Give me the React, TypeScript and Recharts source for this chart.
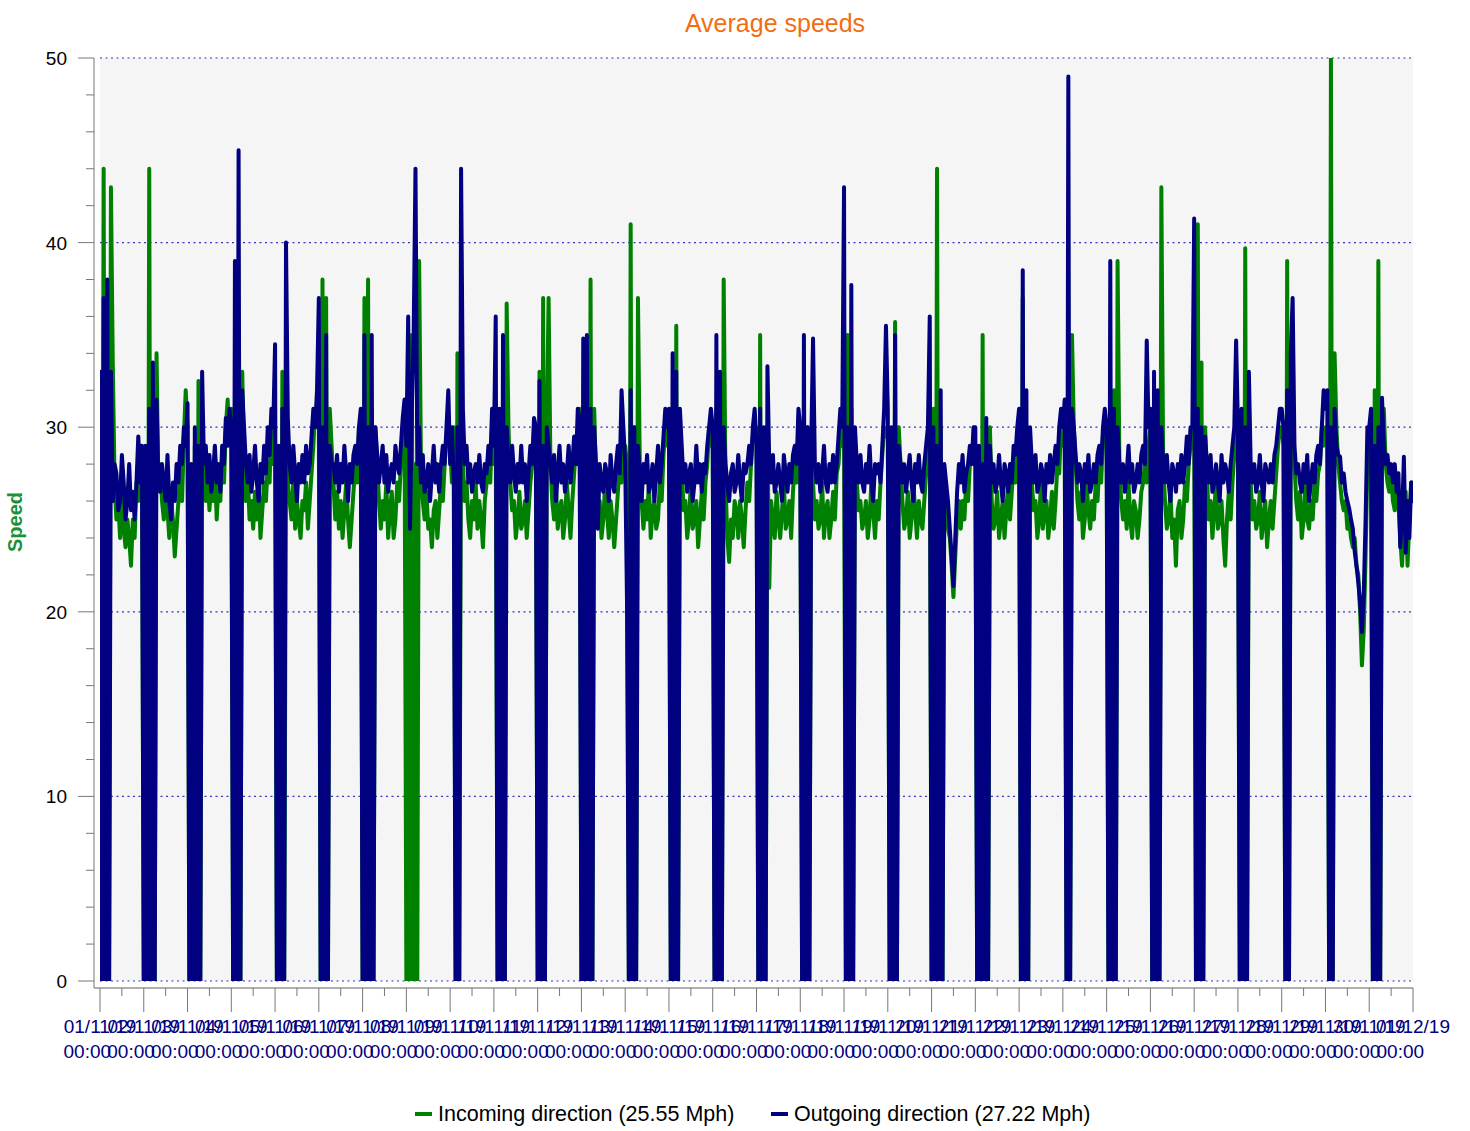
import React from "react";
import { LineChart, Line, XAxis, YAxis, ReferenceArea, ReferenceLine } from "recharts";

const FONT = '"Liberation Sans", Arial, Helvetica, sans-serif';

const titleText = "Average speeds";
const yAxisTitle = "Speed";
const incomingName = "Incoming direction (25.55 Mph)";
const outgoingName = "Outgoing direction (27.22 Mph)";

const dayLabels = [
  "01/11/19", "02/11/19", "03/11/19", "04/11/19", "05/11/19", "06/11/19", "07/11/19", "08/11/19",
  "09/11/19", "10/11/19", "11/11/19", "12/11/19", "13/11/19", "14/11/19", "15/11/19", "16/11/19",
  "17/11/19", "18/11/19", "19/11/19", "20/11/19", "21/11/19", "22/11/19", "23/11/19", "24/11/19",
  "25/11/19", "26/11/19", "27/11/19", "28/11/19", "29/11/19", "30/11/19", "01/12/19",
];
const timeLabel = "00:00";

const yTicks = [0, 2, 4, 6, 8, 10, 12, 14, 16, 18, 20, 22, 24, 26, 28, 30, 32, 34, 36, 38, 40, 42, 44, 46, 48, 50];
const yGridValues = [0, 10, 20, 30, 40, 50];

// Hourly averages per day (00:00 .. 23:00), Incoming direction
const incomingByDay: number[][] = [
  [23, 0, 44, 0, 30, 0, 43, 33.5, 27, 25, 26, 24, 26.5, 24.5, 23.5, 25, 24, 22.5, 25, 24, 27, 26, 29, 28],
  [0, 28, 0, 44, 0, 30, 0, 34, 27, 28, 26, 25, 27, 25.5, 24, 26, 25, 23, 24.5, 26, 27.5, 26, 29.5, 32],
  [30, 0, 27, 0, 29, 0, 32.5, 0, 30, 27, 26, 28, 25.5, 27, 26, 28, 25, 27, 26, 28.5, 27, 30, 31.5, 29],
  [31, 0, 30, 0, 27, 0, 33, 28, 26, 27.5, 25, 26, 24.5, 26.5, 25, 27, 24, 25.5, 27, 26, 28, 27, 30.5, 28],
  [29, 0, 28, 0, 33, 0, 29, 27, 26, 25, 27, 24.5, 26, 25, 24, 26, 25.5, 27, 24.5, 26, 27.5, 29, 31, 30],
  [30, 0, 38, 0, 37, 0, 31, 29, 27, 25, 26.5, 24.5, 26, 24, 25.5, 27, 25, 23.5, 25, 26.5, 28, 27, 30, 29.5],
  [0, 37, 0, 38, 0, 31, 0, 30, 28, 26, 24.5, 26, 25, 27, 24, 25.5, 26.5, 24, 25, 27, 26, 28, 29.5, 31],
  [0, 30, 0, 35, 0, 28, 0, 39, 28, 26, 25, 26.5, 24.5, 25, 23.5, 25.5, 26, 24, 25.5, 27, 26, 28, 29.5, 30],
  [29, 27, 30, 0, 34, 0, 31, 28, 26, 27, 25, 24, 26, 25, 27, 24.5, 26, 25, 23.5, 26, 27, 28.5, 27, 30],
  [28, 30, 0, 29, 0, 32, 0, 36.7, 30, 27, 25.5, 26, 24, 25, 26.5, 24.5, 25, 26, 24, 25.5, 27, 28, 30, 28.5],
  [0, 33, 0, 37, 0, 30, 37, 28, 26, 25, 27, 24.5, 25.5, 26, 24, 25, 27, 25.5, 24, 26, 27.5, 29, 28, 31],
  [0, 30, 0, 33, 0, 38, 0, 31, 27, 25.5, 26, 24, 25, 27, 25.5, 24, 26, 25, 23.5, 25, 26.5, 28, 27, 29],
  [29, 28, 0, 41, 0, 30, 0, 37, 28, 26, 24.5, 26, 25, 27, 24, 25.5, 26, 24.5, 25, 27, 26, 28.5, 30, 29],
  [30, 0, 29, 0, 35.5, 0, 30, 28, 25.5, 26, 24, 25, 27, 24.5, 25, 26, 23.5, 25, 26.5, 25, 27, 28, 30, 29],
  [29, 0, 31, 0, 30, 0, 38, 27, 24, 22.7, 25, 24, 26, 25.5, 24, 26, 25, 23.5, 25.5, 27, 26, 28, 29.5, 30],
  [30, 0, 35, 0, 29, 0, 30, 21.3, 26, 25, 24, 26.5, 25, 24, 25.5, 27, 24.5, 25, 26, 24, 26.5, 28, 27, 30],
  [29, 0, 28, 0, 30, 0, 29, 27, 25, 26, 24.5, 25, 27, 24, 25.5, 26, 24, 25, 26.5, 25, 27.5, 28, 30, 29],
  [30, 0, 35, 0, 31, 0, 29, 27, 25.5, 26, 24.5, 25, 26, 24, 25, 27, 25.5, 24, 26, 25, 27, 28.5, 30, 29.5],
  [30, 0, 29, 0, 35.7, 0, 30, 28, 26, 24.5, 25, 26.5, 24, 25, 27, 25.5, 24, 26, 25, 24.5, 26, 27.5, 29, 31],
  [0, 31, 0, 44, 0, 30, 0, 27, 25.5, 24.5, 24, 22.5, 20.8, 23, 25, 26, 24.5, 26, 25, 27, 26, 28, 29, 28],
  [29, 0, 28, 0, 35, 0, 29, 0, 30, 26, 24.5, 25, 26.5, 24, 25, 26, 24, 25.5, 27, 25, 26.5, 28, 27, 29],
  [30, 0, 37, 0, 30, 0, 29, 27, 25.5, 26, 24, 25, 27, 24.5, 25.5, 26, 24, 25, 26.5, 24.5, 26, 28, 27.5, 30],
  [29, 30, 0, 31, 0, 35, 30, 28, 26, 25, 26.5, 24, 25, 27, 25.5, 24.5, 26, 25, 27, 26, 28, 27, 29.5, 30],
  [29, 0, 30, 0, 32, 0, 39, 28, 26, 25, 26, 24.5, 27, 25, 24, 26, 25.5, 24, 25, 26.5, 27, 28, 27, 29],
  [30, 0, 29, 0, 31, 0, 43, 28, 26, 24.5, 25, 26.5, 24, 25, 22.5, 25.5, 26, 24, 25, 27, 26, 28, 29, 30],
  [30, 0, 41, 0, 33.5, 0, 30, 27.5, 25, 26, 24, 25.5, 27, 24.5, 25, 26, 24, 22.5, 25, 26.5, 25, 27, 28.5, 30],
  [29, 0, 30, 0, 39.7, 0, 29, 27, 25, 26, 24.5, 25, 26.5, 24, 25, 26, 23.5, 25, 26, 24.5, 26, 27.5, 29, 30],
  [30, 29, 0, 39, 0, 31, 30, 28, 26, 25, 26.5, 24, 25, 27, 25, 24.5, 26, 25, 27, 26, 27.5, 28, 30, 29],
  [30, 29, 0, 50, 0, 34, 30, 28, 27, 26, 25.5, 26, 24.5, 25, 24, 23.5, 24, 22.5, 22, 20, 17.1, 19, 23, 28],
  [29, 30, 0, 32, 0, 39, 0, 30, 31, 28, 27, 26.5, 27.5, 26, 25.5, 27, 26, 24, 22.5, 25, 26.5, 22.5, 25, 27],
  [27],
];

// Hourly averages per day (00:00 .. 23:00), Outgoing direction
const outgoingByDay: number[][] = [
  [33, 0, 37, 0, 38, 0, 33, 26, 28, 27.5, 25.5, 26, 28.5, 27, 25, 26, 28, 25.5, 26.5, 25, 27, 29.5, 27, 29],
  [0, 29, 0, 31, 0, 33.5, 0, 31.5, 27, 26.5, 28, 27, 26, 28.5, 26, 25, 27, 26, 28, 27, 29, 28, 30, 29],
  [31.3, 0, 28, 0, 30, 0, 29, 0, 33, 28, 29, 27, 28.5, 26.5, 27.5, 29, 27, 28, 26.5, 29, 28, 30.5, 29, 31],
  [30, 0, 39, 0, 45, 0, 32, 30, 28, 27, 28.5, 26.5, 27.5, 29, 27, 26, 28, 27, 29, 27.5, 30, 28.5, 31, 30],
  [34.5, 0, 29, 0, 31, 0, 40, 30.5, 28, 27, 29, 27.5, 26, 28, 27, 28.5, 27, 29, 27.5, 28, 29.5, 31, 30, 32],
  [37, 0, 30, 0, 35, 0, 29, 28, 28, 27, 28.5, 26.5, 28, 27, 29, 27.5, 26, 28, 27, 28.5, 29, 28, 30, 31],
  [0, 35, 0, 30, 0, 35, 0, 30, 28.5, 27, 28, 29, 27, 28.5, 26.5, 27.5, 28, 27, 29, 28, 27.5, 29, 30.5, 31.5],
  [29, 36, 24.5, 31, 35, 44, 28, 30, 27, 28.5, 26.5, 27, 28, 26, 27.5, 29, 27, 28, 26.5, 28, 29, 28, 30, 32],
  [28, 30, 27, 0, 30, 0, 44, 31, 28, 29, 27, 28, 26.5, 27.5, 28, 27, 28.5, 27, 26.5, 28, 27.5, 29, 28, 31],
  [29, 36, 0, 31, 0, 35, 0, 30, 28, 27, 29, 27.5, 26.5, 28, 27, 29, 27, 28, 26, 27.5, 29, 28, 30.5, 30],
  [0, 32.5, 0, 29, 0, 30, 29, 28, 27, 28.5, 26, 27.5, 29, 27, 28, 26.5, 27.5, 29, 27, 28, 29.5, 28, 31, 30.5],
  [0, 34.8, 0, 35, 0, 31, 0, 30, 28, 24.5, 28, 27, 26.5, 28, 27.5, 26, 28.5, 27, 26.5, 28, 29, 27.5, 32, 30],
  [28, 20.5, 0, 32, 0, 30, 0, 29, 27.5, 26, 28, 27, 28.5, 26.5, 27, 28, 26, 27.5, 29, 27, 28, 29.5, 31, 30],
  [31, 0, 34, 0, 33, 0, 31, 29, 27, 28, 26.5, 27.5, 28, 26, 27, 29, 27, 28, 26.5, 28, 27.5, 29, 30, 31],
  [30, 0, 35, 0, 33, 0, 30, 28, 27, 26, 27.5, 28, 26.5, 27, 28.5, 27, 26, 28, 27.5, 28, 29, 28, 30, 31],
  [29, 0, 31, 0, 30, 0, 33.3, 28, 27, 28.5, 26.5, 27, 28, 27, 26, 28.5, 27.5, 26.5, 28, 27, 28.5, 29, 28, 31],
  [30, 0, 35, 0, 30, 0, 29, 34.8, 28, 27, 28, 26.5, 27.5, 29, 27, 26.5, 28, 27, 28.5, 27, 28, 29.5, 31, 30],
  [43, 0, 30, 0, 37.7, 0, 30, 28, 27, 28.5, 27, 26.5, 28, 27, 29, 27, 26, 28, 27.5, 28, 27, 29, 31, 35.5],
  [31, 0, 30, 0, 35, 0, 29, 28, 27, 28, 26.5, 27.5, 28.5, 27, 26, 28, 27, 28.5, 27, 26.5, 28, 29, 30, 36],
  [0, 30, 0, 29, 0, 32, 0, 28, 27, 26, 24.5, 23, 21.4, 24, 26.5, 28, 27, 28.5, 26.5, 27.5, 28, 29, 28, 30],
  [30, 0, 29, 0, 28, 0, 30.5, 0, 29, 27, 28, 26.5, 27, 28.5, 27, 26, 28, 27.5, 26.5, 28, 27, 29, 28.5, 30],
  [31, 0, 38.5, 0, 32, 0, 30, 28, 27, 28.5, 26.5, 27, 28, 27.5, 26, 28, 27, 28.5, 27, 28, 29, 28, 30, 31],
  [30, 31.5, 0, 49, 0, 31, 30, 28.5, 27, 28, 27.5, 26, 28, 27, 28.5, 26.5, 27, 28, 27, 28.5, 29, 28, 30, 31],
  [30, 0, 39, 0, 31, 0, 30, 28, 27, 28, 26.5, 27.5, 29, 27, 28, 26.5, 27, 28, 27, 28.5, 29, 28, 34.7, 30],
  [31, 0, 33, 0, 32, 0, 30, 28, 27, 28.5, 27, 26, 28, 27.5, 26.5, 28, 27, 28.5, 27, 28, 29.5, 28, 30, 30],
  [41.3, 0, 31, 0, 30, 0, 29.5, 28, 27, 28.5, 26.5, 27, 28, 27, 26, 28.5, 27, 28, 27.5, 26.5, 28, 29, 30, 34.7],
  [30, 0, 31, 0, 30, 0, 33, 28, 27, 28, 26.5, 27, 28.5, 27, 26, 28, 27.5, 27, 28, 27, 28.5, 29, 30, 31],
  [31, 30, 0, 32, 0, 34, 37, 29, 27.5, 28, 27, 26.5, 28, 27, 28.5, 26, 27, 28, 27, 28.5, 29, 28, 30, 32],
  [31, 32, 0, 30, 0, 31, 29, 28.5, 28.4, 27, 27.5, 26.5, 26, 25.6, 25, 24.5, 23.3, 22.5, 21.6, 20.5, 18.9, 21, 25, 30],
  [30, 31, 0, 29, 0, 30, 0, 31.6, 29, 28, 28.5, 27.5, 28, 27, 28, 26.5, 27.5, 23.5, 25, 28.4, 23.2, 26, 24, 27],
  [26],
];

const HOURS_PER_DAY = 24;

const toRows = (byDay: number[][]) =>
  byDay.flatMap((vals, day) => vals.map((v, h) => ({ t: day + h / HOURS_PER_DAY, v })));

const incomingRows = toRows(incomingByDay);
const outgoingRows = toRows(outgoingByDay);

const xTicks = dayLabels.flatMap((_, i) => (i < dayLabels.length - 1 ? [i, i + 0.5] : [i]));

const AXIS_GRAY = "#777777";
const GREEN = "#008000";
const NAVY = "#000080";

const XTick = (props: any) => {
  const { x, y, payload } = props;
  const v = payload.value as number;
  const major = Number.isInteger(v);
  return (
    <g>
      <line x1={x} x2={x} y1={y} y2={y + (major ? 24 : 8)} stroke={AXIS_GRAY} strokeWidth={1} />
      {major && (
        <>
          <text x={x} y={y + 45} textAnchor="middle" fontSize={19} fontFamily={FONT} fill={NAVY}>
            {dayLabels[v]}
          </text>
          <text x={x - 36.5} y={y + 70} textAnchor="start" fontSize={19} fontFamily={FONT} fill={NAVY}>
            {timeLabel}
          </text>
        </>
      )}
    </g>
  );
};

const YTick = (props: any) => {
  const { x, y, payload } = props;
  const v = payload.value as number;
  const major = v % 10 === 0;
  return (
    <g>
      <line x1={x - (major ? 16 : 8)} x2={x} y1={y} y2={y} stroke={AXIS_GRAY} strokeWidth={1} />
      {major && (
        <text x={x - 27} y={y + 7} textAnchor="end" fontSize={19} fontFamily={FONT} fill="#000">
          {v}
        </text>
      )}
    </g>
  );
};

export default function App() {
  return (
    <div style={{ position: "absolute", left: 0, top: 0, width: 1470, height: 1131, background: "#fff" }}>
      <LineChart width={1470} height={1131} margin={{ top: 58, right: 57, bottom: 43, left: 14 }}>
        <ReferenceArea
          x1={0}
          x2={30}
          y1={0}
          y2={50}
          fill="#f5f5f5"
          fillOpacity={1}
          stroke="none"
          zIndex={-60}
        />
        {yGridValues.map((g) => (
          <ReferenceLine
            key={g}
            segment={[{ x: 0, y: g }, { x: 30, y: g }]}
            stroke="#3535c0"
            strokeWidth={1.2}
            strokeDasharray="2 3.5"
            zIndex={-50}
          />
        ))}
        <XAxis
          type="number"
          dataKey="t"
          domain={[0, 30]}
          ticks={xTicks}
          interval={0}
          tick={<XTick />}
          tickLine={false}
          tickSize={0}
          tickMargin={0}
          height={100}
          padding={{ left: 6, right: 0 }}
          axisLine={{ stroke: "#606060" }}
          allowDataOverflow
        />
        <YAxis
          type="number"
          domain={[0, 50]}
          ticks={yTicks}
          interval={0}
          tick={<YTick />}
          tickLine={false}
          tickSize={0}
          tickMargin={0}
          width={80}
          padding={{ top: 0, bottom: 7 }}
          axisLine={{ stroke: AXIS_GRAY }}
          allowDataOverflow
        />
        <Line
          data={incomingRows}
          dataKey="v"
          name={incomingName}
          type="linear"
          stroke={GREEN}
          strokeWidth={4}
          strokeLinejoin="round"
          strokeLinecap="round"
          dot={false}
          activeDot={false}
          isAnimationActive={false}
        />
        <Line
          data={outgoingRows}
          dataKey="v"
          name={outgoingName}
          type="linear"
          stroke={NAVY}
          strokeWidth={4}
          strokeLinejoin="round"
          strokeLinecap="round"
          dot={false}
          activeDot={false}
          isAnimationActive={false}
        />
      </LineChart>
      <svg
        width={1470}
        height={1131}
        style={{ position: "absolute", left: 0, top: 0, pointerEvents: "none" }}
      >
        <text x={775} y={32} textAnchor="middle" fontSize={25} fontFamily={FONT} fill="#f06e14">
          {titleText}
        </text>
        <text
          transform="translate(22,522) rotate(-90)"
          textAnchor="middle"
          fontSize={20}
          fontWeight="bold"
          fontFamily={FONT}
          fill="#1a9038"
        >
          {yAxisTitle}
        </text>
        <line x1={415} x2={432} y1={1114} y2={1114} stroke={GREEN} strokeWidth={4} />
        <text x={438} y={1121} fontSize={21.5} fontFamily={FONT} fill="#000">
          {incomingName}
        </text>
        <line x1={771} x2={788} y1={1114} y2={1114} stroke={NAVY} strokeWidth={4} />
        <text x={794} y={1121} fontSize={21.5} fontFamily={FONT} fill="#000">
          {outgoingName}
        </text>
      </svg>
    </div>
  );
}
